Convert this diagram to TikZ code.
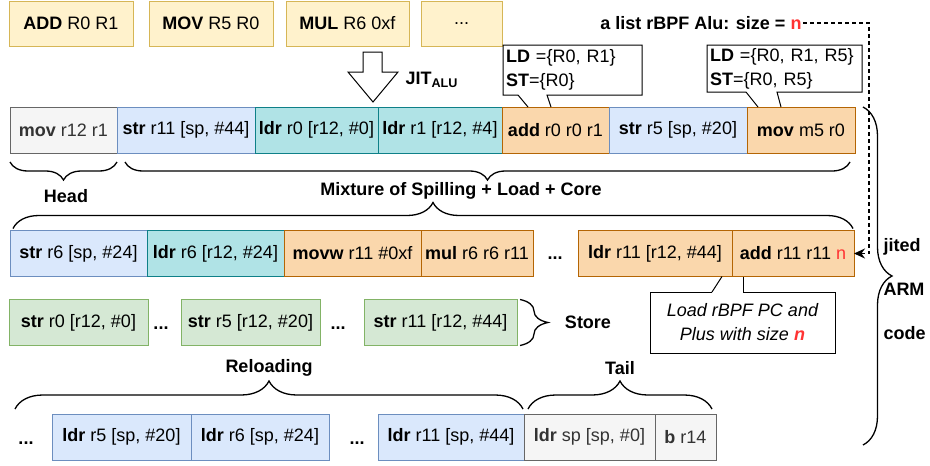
\documentclass[tikz,border=0pt]{standalone}
\usepackage{fontspec}
\setmainfont{Liberation Sans}
\usetikzlibrary{arrows.meta,positioning,calc,decorations.pathreplacing}
\definecolor{bpffill}{HTML}{FFF2CC}
\definecolor{bpfline}{HTML}{D6B656}
\definecolor{headfill}{HTML}{F5F5F5}
\definecolor{headline}{HTML}{666666}
\definecolor{headtext}{HTML}{333333}
\definecolor{spillfill}{HTML}{DAE8FC}
\definecolor{spillline}{HTML}{6C8EBF}
\definecolor{loadfill}{HTML}{B0E3E6}
\definecolor{loadline}{HTML}{0E8088}
\definecolor{corefill}{HTML}{FAD7AC}
\definecolor{coreline}{HTML}{B46504}
\definecolor{storefill}{HTML}{D5E8D4}
\definecolor{storeline}{HTML}{82B366}
\definecolor{nred}{HTML}{FF3333}
\newcommand{\figfont}{\fontsize{18}{21}\selectfont}
\tikzset{
  insn/.style     = {draw, rectangle, minimum height=46pt, inner sep=1pt,
                     outer sep=0pt, align=center},
  wd/.style       = {minimum width=#1pt},
  bpfbox/.style   = {insn, fill=bpffill, draw=bpfline, minimum height=45pt},
  headbox/.style  = {insn, fill=headfill, draw=headline, text=headtext},
  spillbox/.style = {insn, fill=spillfill, draw=spillline},
  loadbox/.style  = {insn, fill=loadfill, draw=loadline},
  corebox/.style  = {insn, fill=corefill, draw=coreline},
  storebox/.style = {insn, fill=storefill, draw=storeline},
  ellip/.style    = {font=\figfont\bfseries, inner sep=0pt, anchor=base},
  lbl/.style      = {font=\figfont\bfseries, inner sep=1pt},
  note/.style     = {fill=white, inner xsep=2pt, inner ysep=1pt, outer sep=0pt,
                     font=\fontsize{18}{24}\selectfont},
  curly/.style    = {decorate, line width=1.3pt, decoration={brace, amplitude=#1pt}},
  curlyb/.style   = {decorate, line width=1.3pt, decoration={brace, mirror, amplitude=#1pt}},
}
\begin{document}
\begin{tikzpicture}[x=1pt,y=-1pt,line width=1pt,font=\figfont]
\useasboundingbox (0,0) rectangle (930,466);

% rBPF ALU instructions
\node[bpfbox, wd=124] (alu1) at (71,23.5) {\textbf{ADD} R0 R1};
\node[bpfbox, wd=124] (alu2) at (211,23.5) {\textbf{MOV} R5 R0};
\node[bpfbox, wd=123] (alu3) at (347.5,23.5) {\textbf{MUL} R6 0xf};
\node[bpfbox, wd=81] (alu4) at (461.5,23.5) {...};

% JIT arrow
\draw[fill=white] (363,52) -- (382,52) -- (382,72) -- (398,72) -- (373,102)
  -- (348,72) -- (363,72) -- cycle;
\node[lbl, anchor=west] (jit) at (404,80) {JIT\textsubscript{\textbf{ALU}}};

% first jited row
\node[headbox, wd=107, anchor=west] (head) at (10,130) {\textbf{mov} r12 r1};
\node[spillbox, wd=138, right=0pt of head] (sp1) {\textbf{str} r11 [sp, \#44]};
\node[loadbox, wd=123, right=0pt of sp1] (ld1) {\textbf{ldr} r0 [r12, \#0]};
\node[loadbox, wd=124, right=0pt of ld1] (ld2) {\textbf{ldr} r1 [r12, \#4]};
\node[corebox, wd=107, right=0pt of ld2] (co1) {\textbf{add} r0 r0 r1};
\node[spillbox, wd=138, right=0pt of co1] (sp2) {\textbf{str} r5 [sp, \#20]};
\node[corebox, wd=108, right=0pt of sp2] (co2) {\textbf{mov} m5 r0};

% LD/ST callouts
\node[note, minimum width=139pt, minimum height=50pt, text width=133pt, align=left]
  (ldst1) at (572.5,70) {\textbf{LD} =\{R0, R1\}\\\textbf{ST}=\{R0\}};
\draw ($(ldst1.south west)+(15,0)$) -- (ldst1.south west) -- (ldst1.north west)
  -- (ldst1.north east) -- (ldst1.south east) -- ($(ldst1.south west)+(44,0)$)
  -- ([xshift=49pt]co1.north west);
\draw ($(ldst1.south west)+(15,0)$) -- ([xshift=26pt]co1.north west);
\node[note, minimum width=155pt, minimum height=47pt, text width=149pt, align=left]
  (ldst2) at (784.5,68.5) {\textbf{LD} =\{R0, R1, R5\}\\\textbf{ST}=\{R0, R5\}};
\draw ($(ldst2.south west)+(39,0)$) -- (ldst2.south west) -- (ldst2.north west)
  -- (ldst2.north east) -- (ldst2.south east) -- ($(ldst2.south west)+(70,0)$)
  -- ([xshift=34pt]co2.north west);
\draw ($(ldst2.south west)+(39,0)$) -- ([xshift=11pt]co2.north west);

% second jited row
\node[spillbox, wd=137, anchor=west] (sp3) at (10,253.5) {\textbf{str} r6 [sp, \#24]};
\node[loadbox, wd=137, right=0pt of sp3] (ld3) {\textbf{ldr} r6 [r12, \#24]};
\node[corebox, wd=137, right=0pt of ld3] (co3) {\textbf{movw} r11 \#0xf};
\node[corebox, wd=112, right=0pt of co3] (co4) {\textbf{mul} r6 r6 r11};
\node[ellip] (dt1) at (555,259) {...};
\node[corebox, wd=154, anchor=west] (co5) at (578,253.5) {\textbf{ldr} r11 [r12, \#44]};
\node[corebox, wd=122, right=0pt of co5] (co6) {\textbf{add} r11 r11 \textcolor{nred}{n}};

% store row
\node[storebox, wd=139, anchor=west] (st1) at (9,322.5) {\textbf{str} r0 [r12, \#0]};
\node[ellip] (dt2) at (161,329) {...};
\node[storebox, wd=139, anchor=west] (st2) at (181,322.5) {\textbf{str} r5 [r12, \#20]};
\node[ellip] (dt3) at (338,329) {...};
\node[storebox, wd=153, anchor=west] (st3) at (364,322.5) {\textbf{str} r11 [r12, \#44]};

% PC callout
\node[note, minimum width=185pt, minimum height=61pt, align=center,
  font=\fontsize{18}{24}\selectfont\itshape]
  (pcnote) at (742.5,322.5) {Load rBPF PC and\\Plus with size \textcolor{nred}{\textbf{n}}};
\draw ($(pcnote.north west)+(62,0)$) -- (pcnote.north west) -- (pcnote.south west)
  -- (pcnote.south east) -- (pcnote.north east) -- ($(pcnote.north west)+(93,0)$)
  -- ([xshift=11pt]co6.south west);
\draw ($(pcnote.north west)+(62,0)$) -- ([xshift=144pt]co5.south west);

% reloading + tail row
\node[ellip] (dt4) at (26,444) {...};
\node[spillbox, wd=139, anchor=west] (rl1) at (52,437) {\textbf{ldr} r5 [sp, \#20]};
\node[spillbox, wd=138, right=0pt of rl1] (rl2) {\textbf{ldr} r6 [sp, \#24]};
\node[ellip] (dt5) at (357,444) {...};
\node[spillbox, wd=146, anchor=west] (rl3) at (378,437) {\textbf{ldr} r11 [sp, \#44]};
\node[headbox, wd=131, right=0pt of rl3] (tl1) {\textbf{ldr} sp [sp, \#0]};
\node[headbox, wd=61, right=0pt of tl1] (tl2) {\textbf{b} r14};

% braces
\draw[curlyb=18] ([yshift=-9pt]head.south west) -- ([yshift=-9pt]head.south east);
\node[lbl] (headlbl) at (66,196) {Head};
\draw[curlyb=18] ([xshift=8pt,yshift=-9pt]sp1.south west)
  -- ([xshift=-5pt,yshift=-9pt]co2.south east);
\node[lbl] (mixlbl) at (461,191) {Mixture of Spilling + Load + Core};
\draw[curly=26] ([xshift=3pt,yshift=2pt]sp3.north west)
  -- ([xshift=-1pt,yshift=2pt]co6.north east);
\draw[curly=28] ([xshift=3pt]st3.north east) -- ([xshift=3pt]st3.south east);
\node[lbl] (storelbl) at (588,322.5) {Store};
\draw[curly=28] ([xshift=-37pt,yshift=5pt]rl1.north west)
  -- ([xshift=-1pt,yshift=5pt]rl3.north east);
\node[lbl] (reldlbl) at (269,368) {Reloading};
\draw[curly=28] ([xshift=4pt,yshift=5pt]tl1.north west)
  -- ([xshift=-4pt,yshift=5pt]tl2.north east);
\node[lbl] (taillbl) at (620,368) {Tail};

% whole jited code
\coordinate (armend) at (863,445);
\draw[curly=29] ([xshift=8pt]co2.north east) -- (armend);
\node[lbl, anchor=west, align=left, font=\fontsize{18}{44}\selectfont\bfseries]
  (armlbl) at (882,289) {jited\\ARM\\code};

% size n pointer
\node[lbl, anchor=east] (alist) at (803,23) {a list rBPF Alu: size = \textcolor{nred}{n}};
\draw[line width=1.3pt, dash pattern=on 4pt off 3pt, -{Stealth[length=11pt,width=10pt]}]
  (alist.east) -| ([xshift=15pt]co6.east) -- (co6.east);
\end{tikzpicture}
\end{document}
